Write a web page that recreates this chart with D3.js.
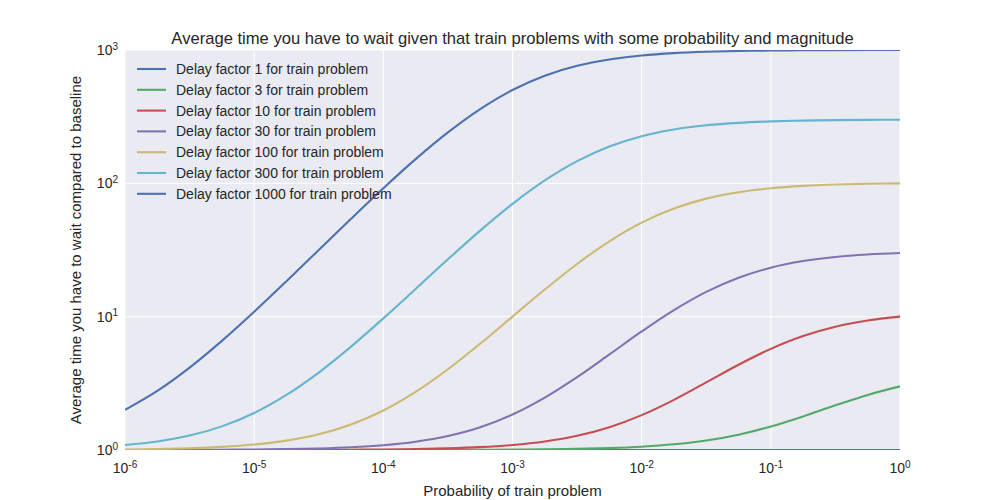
<!DOCTYPE html>
<html><head><meta charset="utf-8">
<script src="https://cdn.jsdelivr.net/npm/d3@7"></script>
<style>body{margin:0;background:#fff;} text{font-family:"Liberation Sans",Arial,sans-serif;fill:#262626;}</style>
</head><body><svg id="c" width="1000" height="500"></svg>
<script>
// Probability values (quarter decades from 1e-6 to 1)
const probs = [1e-6,1.778e-6,3.162e-6,5.623e-6,1e-5,1.778e-5,3.162e-5,5.623e-5,1e-4,1.778e-4,3.162e-4,5.623e-4,1e-3,1.778e-3,3.162e-3,5.623e-3,1e-2,1.778e-2,3.162e-2,5.623e-2,0.1,0.1778,0.3162,0.5623,1];
const delayFactors = [1,3,10,30,100,300,1000];
const wait1 = [1,1,1,1,1,1,1,1,1,1,1,1,1,1,1,1,1,1,1,1,1,1,1,1,1];
const wait3 = [1,1,1,1,1.0001,1.0001,1.0002,1.0003,1.0006,1.0011,1.0019,1.0034,1.006,1.0106,1.0188,1.0334,1.0588,1.103,1.1785,1.303,1.5,1.787,2.162,2.588,3];
const wait10 = [1.0001,1.0002,1.0003,1.0005,1.0009,1.0016,1.0029,1.0051,1.009,1.016,1.0284,1.0504,1.089,1.158,1.277,1.482,1.826,2.379,3.215,4.36,5.737,7.154,8.399,9.35,10];
const wait30 = [1.0009,1.0016,1.0028,1.0049,1.0087,1.0155,1.0275,1.0488,1.0868,1.154,1.273,1.481,1.846,2.471,3.52,5.206,7.744,11.2,15.35,19.59,23.31,26.12,28.05,29.26,30];
const wait100 = [1.0099,1.0176,1.0313,1.0556,1.0989,1.1757,1.312,1.554,1.98,2.73,4.035,6.273,10.01,15.97,24.84,36.76,50.75,64.77,76.8,85.77,91.83,95.63,97.92,99.23,100];
const wait300 = [1.09,1.159,1.283,1.504,1.894,2.587,3.81,5.96,9.71,16.14,26.91,44.18,70.05,105.1,146.8,189.1,225.8,253.5,272.3,284.2,291.3,295.5,297.9,299.3,300];
const wait1000 = [1.998,2.773,4.149,6.586,10.89,18.45,31.62,54.19,91.83,151.8,241,360.7,500.7,640.8,760.5,849.9,910,947.8,970.2,983.6,991.1,995.5,997.8,999.3,1000];
const seriesValues = [wait1,wait3,wait10,wait30,wait100,wait300,wait1000];
const xTickExps = [-6,-5,-4,-3,-2,-1,0];
const yTickExps = [0,1,2,3];
const colors = ["#4C72B0","#55A868","#C44E52","#8172B2","#CCB974","#64B5CD","#4C72B0"];

const svg = d3.select("#c");
const L=125,R=900,T=50,B=450;
const x = d3.scaleLog().domain([1e-6,1]).range([L,R]);
const y = d3.scaleLog().domain([1,1000]).range([B,T]);

svg.append("rect").attr("x",L).attr("y",T).attr("width",R-L).attr("height",B-T).attr("fill","#EAEAF2");
svg.append("defs").append("clipPath").attr("id","clip").append("rect").attr("x",L).attr("y",T).attr("width",R-L).attr("height",B-T);

const g = svg.append("g");
g.selectAll("line.gx").data(xTickExps).enter().append("line")
  .attr("x1",d=>x(Math.pow(10,d))).attr("x2",d=>x(Math.pow(10,d))).attr("y1",T).attr("y2",B)
  .attr("stroke","#fff").attr("stroke-width",1);
g.selectAll("line.gy").data(yTickExps).enter().append("line")
  .attr("y1",d=>y(Math.pow(10,d))).attr("y2",d=>y(Math.pow(10,d))).attr("x1",L).attr("x2",R)
  .attr("stroke","#fff").attr("stroke-width",1);

function sup(sel){
  sel.append("tspan").text("10");
  sel.append("tspan").attr("dy","-0.55em").attr("font-size","10px").text(d=>d===0?"0":(d<0?"-"+(-d):d));
}
svg.selectAll("text.xt").data(xTickExps).enter().append("text")
  .attr("x",d=>x(Math.pow(10,d))).attr("y",473).attr("text-anchor","middle").attr("font-size","14px").call(sup);
svg.selectAll("text.yt").data(yTickExps).enter().append("text")
  .attr("x",118).attr("y",d=>y(Math.pow(10,d))+5).attr("text-anchor","end").attr("font-size","14px").call(sup);

const line = d3.line().x((d,i)=>x(probs[i])).y(d=>y(d)).curve(d3.curveCatmullRom);
const lg = svg.append("g").attr("clip-path","url(#clip)");
seriesValues.forEach((vals,k)=>{
  lg.append("path").attr("d",line(vals)).attr("fill","none").attr("stroke",colors[k]).attr("stroke-width",2.1);
});

// legend
delayFactors.forEach((d,k)=>{
  const yy = 69 + k*20.8;
  svg.append("line").attr("x1",137).attr("x2",166).attr("y1",yy).attr("y2",yy).attr("stroke",colors[k]).attr("stroke-width",2.1);
  svg.append("text").attr("x",176).attr("y",yy+5).attr("font-size","14px").text("Delay factor "+d+" for train problem");
});

svg.append("text").attr("x",(L+R)/2).attr("y",44).attr("text-anchor","middle").attr("font-size","16.6px")
  .text("Average time you have to wait given that train problems with some probability and magnitude");
svg.append("text").attr("x",(L+R)/2).attr("y",496).attr("text-anchor","middle").attr("font-size","15px")
  .text("Probability of train problem");
svg.append("text").attr("transform","translate(81,250) rotate(-90)").attr("text-anchor","middle").attr("font-size","15px")
  .text("Average time you have to wait compared to baseline");
</script></body></html>
